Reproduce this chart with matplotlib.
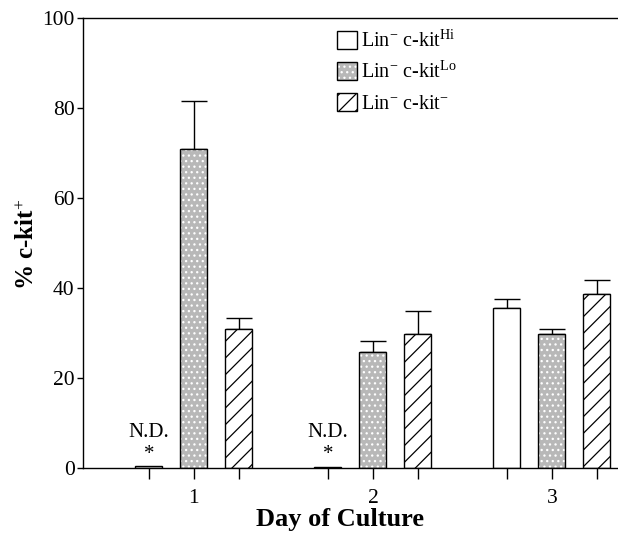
import matplotlib
matplotlib.use("Agg")
import matplotlib.pyplot as plt
import numpy as np
from matplotlib.patches import Patch

plt.rcParams['font.family'] = ['Liberation Serif', 'DejaVu Serif']
plt.rcParams['mathtext.fontset'] = 'custom'
plt.rcParams['mathtext.rm'] = 'Liberation Serif'
plt.rcParams['mathtext.it'] = 'Liberation Serif'
plt.rcParams['mathtext.bf'] = 'Liberation Serif:bold'
plt.rcParams['hatch.linewidth'] = 0.9

days = [1, 2, 3]
day_labels = ['1', '2', '3']
series_names = ['Lin$^{-}$ c-kit$^{\\mathrm{Hi}}$', 'Lin$^{-}$ c-kit$^{\\mathrm{Lo}}$', 'Lin$^{-}$ c-kit$^{-}$']
hi_vals = [0.4, 0.3, 35.6]
hi_err = [0.0, 0.0, 2.0]
lo_vals = [70.9, 25.7, 29.7]
lo_err = [10.7, 2.5, 1.1]
neg_vals = [30.9, 29.7, 38.7]
neg_err = [2.4, 5.2, 3.1]
nd_days = [1, 2]

fig = plt.figure(figsize=(6.18, 5.33), dpi=100)
ax = fig.add_axes([0.1343, 0.122, 0.8657, 0.8443])

x = np.array(days, dtype=float)
off = 0.2514
w = 0.151
cap = 9.7

# Hi: white bars
ax.bar(x - off, hi_vals, w, color='white', edgecolor='black', linewidth=1.0, zorder=2)
ax.errorbar(x[2:] - off, hi_vals[2:], yerr=[[0], hi_err[2:]], fmt='none', ecolor='black',
            elinewidth=1.0, capsize=cap, capthick=1.0, zorder=1)
# Lo: stippled gray bars
ax.bar(x, lo_vals, w, color='#b8b8b8', edgecolor='white', hatch='...', linewidth=0, zorder=2)
ax.bar(x, lo_vals, w, fill=False, edgecolor='black', linewidth=1.0, zorder=3)
ax.errorbar(x, lo_vals, yerr=[[0]*3, lo_err], fmt='none', ecolor='black',
            elinewidth=1.0, capsize=cap, capthick=1.0, zorder=1)
# Neg: hatched bars
ax.bar(x + off, neg_vals, w, color='white', edgecolor='black', hatch='//', linewidth=1.0, zorder=2)
ax.errorbar(x + off, neg_vals, yerr=[[0]*3, neg_err], fmt='none', ecolor='black',
            elinewidth=1.0, capsize=cap, capthick=1.0, zorder=1)

for d in nd_days:
    ax.text(d - off, 7.8, 'N.D.', ha='center', va='center', fontsize=15)
    ax.text(d - off, 2.9, '*', ha='center', va='center', fontsize=15)

ax.set_xlim(0.38, 3.369)
ax.set_ylim(0, 100)
ax.set_yticks([0, 20, 40, 60, 80, 100])
ax.tick_params(axis='y', direction='out', length=4, width=1, labelsize=15.5, pad=2)
ticks = np.sort(np.concatenate([x - off, x, x + off]))
ax.set_xticks(ticks)
labs = []
for t in ticks:
    labs.append(day_labels[days.index(int(round(t)))] if abs(t - round(t)) < 1e-6 else '')
ax.set_xticklabels(labs)
ax.tick_params(axis='x', direction='out', length=8, width=1, labelsize=15.5, pad=7)
ax.spines['right'].set_visible(False)
for s in ['top', 'left', 'bottom']:
    ax.spines[s].set_linewidth(1.0)

ax.set_xlabel('Day of Culture', fontsize=19, fontweight='bold')
ax.xaxis.set_label_coords(0.480, -0.1156)
ax.xaxis.label.set_va('center')
ax.set_ylabel('% c-kit$^{+}$', fontsize=18, fontweight='bold')
ax.yaxis.set_label_coords(-0.103, 0.496)
ax.yaxis.label.set_va('center')

h1 = Patch(facecolor='white', edgecolor='black', linewidth=1.0)
h2a = Patch(facecolor='#b8b8b8', edgecolor='white', hatch='...', linewidth=0)
h2b = Patch(fill=False, edgecolor='black', linewidth=1.0)
h3 = Patch(facecolor='white', edgecolor='black', hatch='//', linewidth=1.0)
ax.legend([h1, (h2a, h2b), h3], series_names, loc='upper left', bbox_to_anchor=(0.44, 1.012),
          frameon=False, fontsize=14.5, handlelength=1.0, handleheight=1.0, handletextpad=0.2,
          labelspacing=0.5, borderpad=0.4)

fig.savefig('out.png', dpi=100)
